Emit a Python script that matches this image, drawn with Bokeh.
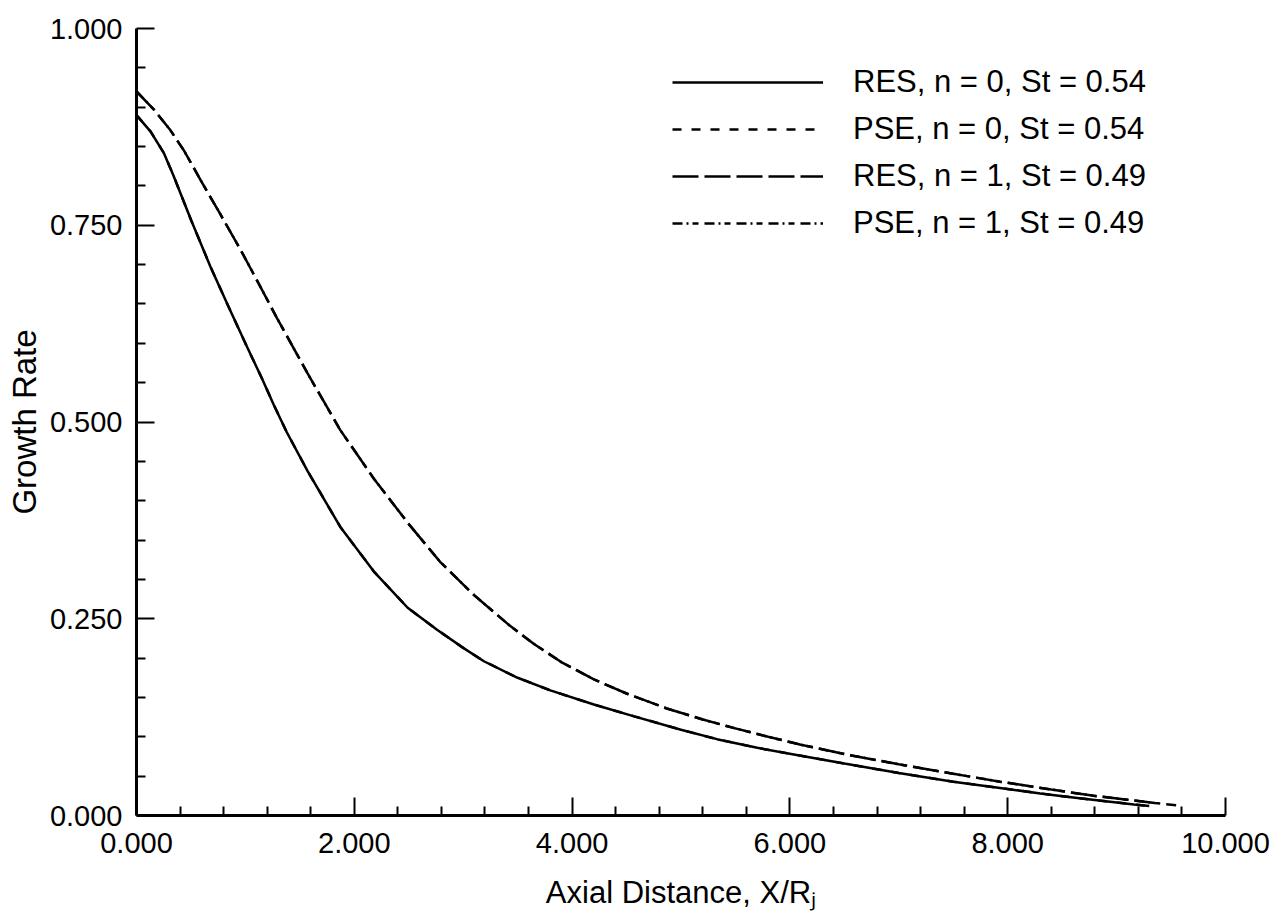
from bokeh.plotting import figure
from bokeh.models import (Range1d, FixedTicker, PrintfTickFormatter, Legend,
                          LegendItem)
from bokeh.embed import file_html
from bokeh.resources import INLINE

# ---- data ----
x_res0 = [0.0, 0.13, 0.25, 0.34, 0.50, 0.68, 0.86, 1.02, 1.15, 1.26, 1.38, 1.57,
          1.87, 2.18, 2.49, 2.76, 3.0, 3.19, 3.5, 3.8, 4.2, 4.57, 5.0, 5.33,
          5.7, 6.1, 6.5, 7.0, 7.5, 7.93, 8.3, 8.6, 8.9, 9.16, 9.3]
y_res0 = [0.890, 0.869, 0.842, 0.813, 0.757, 0.697, 0.642, 0.594, 0.556, 0.522, 0.487, 0.438,
          0.367, 0.310, 0.264, 0.236, 0.213, 0.196, 0.175, 0.159, 0.141, 0.126, 0.109, 0.097,
          0.086, 0.076, 0.066, 0.054, 0.043, 0.035, 0.028, 0.023, 0.018, 0.014, 0.012]

x_pse0 = [0.0, 0.13, 0.25, 0.34, 0.50, 0.68, 0.86, 1.02, 1.15, 1.26, 1.38, 1.57,
          1.87, 2.18, 2.49, 2.76, 3.0, 3.19, 3.5, 3.8, 4.2, 4.57, 5.0, 5.33,
          5.7, 6.1, 6.5, 7.0, 7.5, 7.93, 8.3, 8.6, 8.9, 9.16, 9.3]
y_pse0 = [0.890, 0.869, 0.842, 0.813, 0.757, 0.697, 0.642, 0.594, 0.556, 0.522, 0.487, 0.438,
          0.367, 0.310, 0.264, 0.236, 0.213, 0.196, 0.175, 0.159, 0.141, 0.126, 0.109, 0.097,
          0.086, 0.076, 0.066, 0.054, 0.043, 0.035, 0.028, 0.023, 0.018, 0.014, 0.012]

x_res1 = [0.0, 0.16, 0.31, 0.44, 0.59, 0.77, 0.955, 1.11, 1.29, 1.45, 1.57, 1.87,
          2.18, 2.49, 2.79, 3.10, 3.43, 3.65, 3.9, 4.2, 4.5, 4.87, 5.2, 5.49,
          5.8, 6.1, 6.5, 7.0, 7.5, 7.93, 8.4, 8.79, 9.1, 9.35]
y_res1 = [0.920, 0.897, 0.871, 0.844, 0.807, 0.764, 0.719, 0.679, 0.632, 0.592, 0.562, 0.490,
          0.428, 0.372, 0.322, 0.280, 0.241, 0.218, 0.195, 0.173, 0.155, 0.136, 0.122, 0.111,
          0.100, 0.090, 0.078, 0.065, 0.053, 0.043, 0.033, 0.025, 0.020, 0.016]

x_pse1 = [0.0, 0.16, 0.31, 0.44, 0.59, 0.77, 0.955, 1.11, 1.29, 1.45, 1.57, 1.87,
          2.18, 2.49, 2.79, 3.10, 3.43, 3.65, 3.9, 4.2, 4.5, 4.87, 5.2, 5.49,
          5.8, 6.1, 6.5, 7.0, 7.5, 7.93, 8.4, 8.79, 9.1, 9.35, 9.55]
y_pse1 = [0.920, 0.897, 0.871, 0.844, 0.807, 0.764, 0.719, 0.679, 0.632, 0.592, 0.562, 0.490,
          0.428, 0.372, 0.322, 0.280, 0.241, 0.218, 0.195, 0.173, 0.155, 0.136, 0.122, 0.111,
          0.100, 0.090, 0.078, 0.065, 0.053, 0.043, 0.033, 0.025, 0.020, 0.016, 0.013]

labels = ["RES, n = 0, St = 0.54", "PSE, n = 0, St = 0.54",
          "RES, n = 1, St = 0.49", "PSE, n = 1, St = 0.49"]

x_title = "Axial Distance, X/R\u2c7c"
y_title = "Growth Rate"

x_major = [0, 2, 4, 6, 8, 10]
x_minor = [0.4, 0.8, 1.2, 1.6, 2.4, 2.8, 3.2, 3.6, 4.4, 4.8, 5.2, 5.6,
           6.4, 6.8, 7.2, 7.6, 8.4, 8.8, 9.2, 9.6]
y_major = [0.0, 0.25, 0.5, 0.75, 1.0]
y_minor = [0.05, 0.10, 0.15, 0.20, 0.30, 0.35, 0.40, 0.45, 0.55, 0.60, 0.65, 0.70,
           0.80, 0.85, 0.90, 0.95]

FONT = "Liberation Sans"

p = figure(width=1275, height=919, output_backend="svg", toolbar_location=None,
           x_range=Range1d(0, 10), y_range=Range1d(0, 1),
           min_border_left=136, min_border_right=50, min_border_top=28,
           min_border_bottom=104, x_axis_label=x_title, y_axis_label=y_title)
p.outline_line_color = None
p.xgrid.grid_line_color = None
p.ygrid.grid_line_color = None
p.background_fill_color = "white"
p.border_fill_color = "white"

for ax, maj, mnr in ((p.xaxis[0], x_major, x_minor), (p.yaxis[0], y_major, y_minor)):
    ax.ticker = FixedTicker(ticks=maj, minor_ticks=mnr)
    ax.formatter = PrintfTickFormatter(format="%.3f")
    ax.axis_line_width = 3
    ax.axis_line_color = "black"
    ax.major_tick_line_width = 2
    ax.minor_tick_line_width = 2
    ax.major_tick_in = 18
    ax.major_tick_out = 0
    ax.minor_tick_in = 9
    ax.minor_tick_out = 0
    ax.major_label_text_font = FONT
    ax.major_label_text_font_size = "29px"
    ax.major_label_text_color = "black"
    ax.axis_label_text_font = FONT
    ax.axis_label_text_font_style = "normal"
    ax.axis_label_text_color = "black"
p.xaxis.axis_label_text_font_size = "31px"
p.yaxis.axis_label_text_font_size = "33px"
p.xaxis.major_label_standoff = 17
p.yaxis.major_label_standoff = 14
p.xaxis.axis_label_standoff = 19
p.yaxis.axis_label_standoff = 4

lw = 2.5
r0 = p.line(x_res0, y_res0, line_color="black", line_width=lw)
r1 = p.line(x_pse0, y_pse0, line_color="black", line_width=lw, line_dash="9 10")
r3 = p.line(x_pse1, y_pse1, line_color="black", line_width=lw, line_dash="10 4 2 4 6 6")
r2 = p.line(x_res1, y_res1, line_color="black", line_width=lw, line_dash="26 6")

legend = Legend(items=[LegendItem(label=labels[0], renderers=[r0]),
                       LegendItem(label=labels[1], renderers=[r1]),
                       LegendItem(label=labels[2], renderers=[r2]),
                       LegendItem(label=labels[3], renderers=[r3])],
                location=(536, 574), padding=0, margin=0, spacing=11,
                glyph_width=151, glyph_height=36, label_height=36,
                label_standoff=30, label_text_font=FONT,
                label_text_font_size="31px", label_text_color="black",
                border_line_color=None, background_fill_alpha=0)
p.add_layout(legend, "center")

open("out.html", "w").write(file_html(p, INLINE))
